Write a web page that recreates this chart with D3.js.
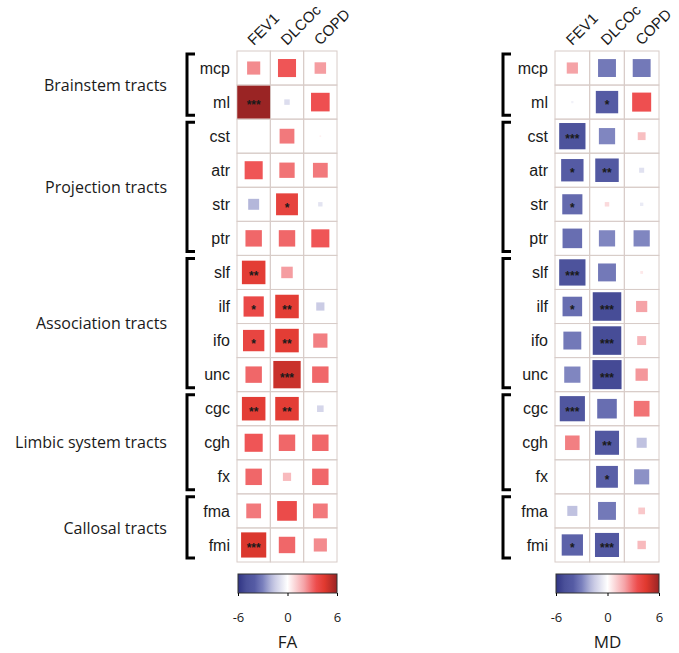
<!DOCTYPE html>
<html>
<head>
<meta charset="utf-8">
<script src="https://cdnjs.cloudflare.com/ajax/libs/d3/7.8.5/d3.min.js"></script>
<style>
  body { margin: 0; background: #fff; }
  svg text { font-family: "Liberation Sans", Arial, sans-serif; fill: #1a1a1a; }
  .group_label, .bar_title, .bar_tick text { font-family: "Open Sans", "Noto Sans", sans-serif; }
</style>
</head>
<body>
<div id="chart"></div>
<script>

var tracts = ['mcp', 'ml', 'cst', 'atr', 'str', 'ptr', 'slf', 'ilf', 'ifo', 'unc', 'cgc', 'cgh', 'fx', 'fma', 'fmi'];
var measures = ['FEV1', 'DLCOc', 'COPD'];
var groupNames = ['Brainstem tracts', 'Projection tracts', 'Association tracts', 'Limbic system tracts', 'Callosal tracts'];
var groupSizes = [2, 4, 4, 3, 2];

// t values, one row per tract: FEV1, DLCOc, COPD
var faValues = [
  [2.4, 3.3, 2.1],
  [6.0, -1.0, 3.4],
  [0, 2.7, 0.3],
  [3.3, 2.8, 2.7],
  [-2.0, 4.0, -0.8],
  [3.0, 3.0, 3.3],
  [4.3, 2.1, 0],
  [3.7, 4.3, -1.5],
  [3.9, 4.3, 2.6],
  [3.0, 5.0, 3.0],
  [4.3, 4.3, -1.2],
  [3.3, 3.0, 3.0],
  [3.0, 1.5, 3.0],
  [2.7, 3.6, 2.7],
  [4.6, 3.0, 2.4]
];
var faStars = [
  ['', '', ''],
  ['***', '', ''],
  ['', '', ''],
  ['', '', ''],
  ['', '*', ''],
  ['', '', ''],
  ['**', '', ''],
  ['*', '**', ''],
  ['*', '**', ''],
  ['', '***', ''],
  ['**', '**', ''],
  ['', '', ''],
  ['', '', ''],
  ['', '', ''],
  ['***', '', '']
];

var mdValues = [
  [2.0, -3.2, -3.2],
  [-0.4, -4.0, 3.4],
  [-4.7, -2.9, 1.4],
  [-4.0, -4.2, -0.9],
  [-3.6, 0.8, -0.6],
  [-3.5, -2.9, -2.9],
  [-4.7, -3.2, 0.5],
  [-3.5, -5.1, 2.0],
  [-3.2, -5.1, 1.6],
  [-2.9, -5.2, 2.2],
  [-4.5, -3.5, 2.8],
  [2.6, -4.3, -1.8],
  [0, -3.9, -2.7],
  [-1.8, -3.2, 1.2],
  [-3.8, -4.3, 1.5]
];
var mdStars = [
  ['', '', ''],
  ['', '*', ''],
  ['***', '', ''],
  ['*', '**', ''],
  ['*', '', ''],
  ['', '', ''],
  ['***', '', ''],
  ['*', '***', ''],
  ['', '***', ''],
  ['', '***', ''],
  ['***', '', ''],
  ['', '**', ''],
  ['', '*', ''],
  ['', '', ''],
  ['*', '***', '']
];

var colorTicks = [-6, 0, 6];

var svg = d3.select('#chart').append('svg')
    .attr('width', 679)
    .attr('height', 653);

var color = d3.scaleLinear()
    .domain([-6, -5, -4, -3, -1.8, 0, 2, 3.4, 4.5, 6])
    .range(['#2f3483', '#4a5099', '#555ba4', '#7a80bd', '#c0c2e0', '#ffffff', '#f5a3a7', '#ee4f50', '#e0392f', '#9a2424'])
    .clamp(true);

var y = d3.scaleBand()
    .domain(tracts)
    .range([51, 562]);

function drawBrackets(bx) {
  var start = 0;
  groupSizes.forEach(function(n) {
    var y0 = y(tracts[start]) + 3;
    var y1 = y(tracts[start + n - 1]) + y.bandwidth() - 4;
    svg.append('path')
        .attr('d', 'M' + (bx + 8) + ',' + y0 + 'H' + bx + 'V' + y1 + 'H' + (bx + 8))
        .attr('fill', 'none')
        .attr('stroke', '#000')
        .attr('stroke-width', 3);
    start += n;
  });
}

function drawPanel(values, stars, x0, w, title, bracketX) {
  var x = d3.scaleBand()
      .domain(measures)
      .range([x0, x0 + w]);

  var size = d3.scaleLinear()
      .domain([0, 6])
      .range([0, Math.min(x.bandwidth(), y.bandwidth()) - 0.5]);

  var cells = [];
  tracts.forEach(function(t, i) {
    measures.forEach(function(m, j) {
      cells.push({tract: t, measure: m, value: values[i][j], star: stars[i][j]});
    });
  });

  // grid
  svg.append('g').selectAll('rect')
      .data(cells)
    .enter().append('rect')
      .attr('x', function(d) { return x(d.measure); })
      .attr('y', function(d) { return y(d.tract); })
      .attr('width', x.bandwidth())
      .attr('height', y.bandwidth())
      .attr('fill', 'none')
      .attr('stroke', '#d8ccc8')
      .attr('stroke-width', 1);

  // squares
  svg.append('g').selectAll('rect')
      .data(cells)
    .enter().append('rect')
      .attr('x', function(d) { return x(d.measure) + (x.bandwidth() - size(Math.abs(d.value))) / 2; })
      .attr('y', function(d) { return y(d.tract) + (y.bandwidth() - size(Math.abs(d.value))) / 2; })
      .attr('width', function(d) { return size(Math.abs(d.value)); })
      .attr('height', function(d) { return size(Math.abs(d.value)); })
      .attr('fill', function(d) { return color(d.value); });

  svg.append('g').selectAll('text')
      .data(cells.filter(function(d) { return d.star; }))
    .enter().append('text')
      .attr('x', function(d) { return x(d.measure) + x.bandwidth() / 2; })
      .attr('y', function(d) { return y(d.tract) + y.bandwidth() / 2; })
      .attr('dy', '0.6em')
      .attr('text-anchor', 'middle')
      .style('font-size', '12px')
      .style('font-weight', 'bold')
      .text(function(d) { return d.star; });

  // row labels
  svg.append('g').selectAll('text')
      .data(tracts)
    .enter().append('text')
      .attr('x', x0 - 7)
      .attr('y', function(d) { return y(d) + y.bandwidth() / 2; })
      .attr('dy', '0.35em')
      .attr('text-anchor', 'end')
      .style('font-size', '16px')
      .text(function(d) { return d; });

  // column headers
  svg.append('g').selectAll('text')
      .data(measures)
    .enter().append('text')
      .attr('transform', function(d) { return 'translate(' + (x(d) + x.bandwidth() / 2) + ',46)rotate(-45)'; })
      .style('font-size', '15px')
      .text(function(d) { return d; });

  drawBrackets(bracketX);

  // colour bar
  var gid = 'grad' + title;
  var grad = svg.append('defs').append('linearGradient')
      .attr('id', gid);
  d3.range(-6, 6.01, 0.5).forEach(function(v) {
    grad.append('stop')
        .attr('offset', ((v + 6) / 12 * 100) + '%')
        .attr('stop-color', color(v));
  });

  var bx = d3.scaleLinear()
      .domain([-6, 6])
      .range([x0 + 1, x0 + w]);

  svg.append('rect')
      .attr('x', bx(-6))
      .attr('y', 574)
      .attr('width', bx(6) - bx(-6))
      .attr('height', 19)
      .attr('fill', 'url(#' + gid + ')')
      .attr('stroke', '#333')
      .attr('stroke-width', 1);

  svg.append('g')
      .attr('class', 'bar_tick')
      .attr('transform', 'translate(0,593)')
      .call(d3.axisBottom(bx).tickValues(colorTicks).tickSize(3).tickPadding(17).tickFormat(function(d) { return String(d); }))
      .call(function(g) { g.select('.domain').remove(); })
      .call(function(g) { g.selectAll('text').style('font-size', '13px').attr('fill', '#1a1a1a'); });

  svg.append('text')
      .attr('class', 'bar_title')
      .attr('x', (bx(-6) + bx(6)) / 2)
      .attr('y', 648)
      .attr('text-anchor', 'middle')
      .style('font-size', '17px')
      .text(title);
}

drawPanel(faValues, faStars, 237, 100, 'FA', 187);
drawPanel(mdValues, mdStars, 555, 104, 'MD', 503);

// group labels
var start = 0;
groupNames.forEach(function(name, i) {
  var n = groupSizes[i];
  var cy = (y(tracts[start]) + y(tracts[start + n - 1]) + y.bandwidth()) / 2;
  svg.append('text')
      .attr('class', 'group_label')
      .attr('x', 167)
      .attr('y', cy)
      .attr('dy', '0.35em')
      .attr('text-anchor', 'end')
      .style('font-size', '16px')
      .text(name);
  start += n;
});

</script>
</body>
</html>
